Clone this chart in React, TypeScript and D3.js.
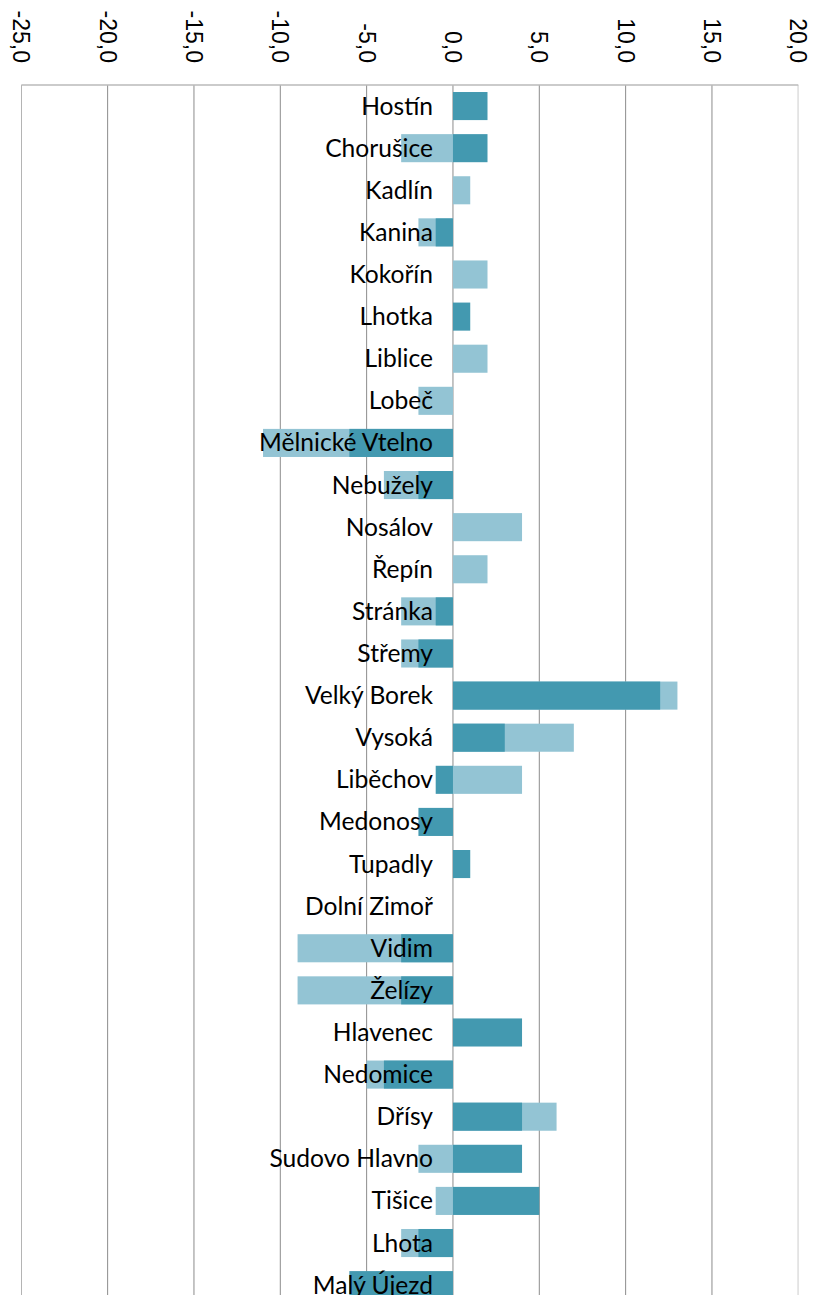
import React, { useEffect, useRef } from "react";
import * as d3 from "d3";

const categories = [
  "Hostín", "Chorušice", "Kadlín", "Kanina", "Kokořín", "Lhotka", "Liblice", "Lobeč",
  "Mělnické Vtelno", "Nebužely", "Nosálov", "Řepín", "Stránka", "Střemy", "Velký Borek",
  "Vysoká", "Liběchov", "Medonosy", "Tupadly", "Dolní Zimoř", "Vidim", "Želízy", "Hlavenec",
  "Nedomice", "Dřísy", "Sudovo Hlavno", "Tišice", "Lhota", "Malý Újezd"
];

// light series (drawn behind)
const seriesLight = [
  0, -3, 1, -2, 2, 0, 2, -2, -11, -4, 4, 2, -3, -3, 13,
  7, 4, 0, 0, 0, -9, -9, 0, -5, 6, -2, -1, -3, 0
];

// dark series (drawn in front)
const seriesDark = [
  2, 2, 0, -1, 0, 1, 0, 0, -6, -2, 0, 0, -1, -2, 12,
  3, -1, -2, 1, 0, -3, -3, 4, -4, 4, 4, 5, -2, -6
];

const xTicks = [-25, -20, -15, -10, -5, 0, 5, 10, 15, 20];

const App = () => {
  const ref = useRef<SVGSVGElement>(null);

  useEffect(() => {
    const W = 818, H = 1305;
    const left = 21.3, right = 798.3, top = 85, clipBottom = 1295;
    const step = 42.11;

    const svg = d3.select(ref.current);
    svg.selectAll("*").remove();
    svg.attr("width", W).attr("height", H);

    const x = d3.scaleLinear().domain([-25, 20]).range([left, right]);
    const y = d3.scaleBand<string>()
      .domain(categories)
      .range([top, top + step * categories.length])
      .paddingInner(1 / 3)
      .paddingOuter(1 / 6);

    const fmt = d3.formatLocale({
      decimal: ",", thousands: " ", grouping: [3], currency: ["", ""], minus: "-"
    }).format(".1f");

    svg.append("defs").append("clipPath").attr("id", "plotclip")
      .append("rect")
      .attr("x", left).attr("y", top)
      .attr("width", right - left).attr("height", clipBottom - top);

    const plot = svg.append("g").attr("clip-path", "url(#plotclip)");

    // gridlines
    plot.selectAll(".grid")
      .data(xTicks)
      .join("line")
      .attr("class", "grid")
      .attr("x1", d => x(d)).attr("x2", d => x(d))
      .attr("y1", top).attr("y2", clipBottom)
      .attr("stroke", d => (d === -25 ? "#7a7a7a" : "#8c8c8c"))
      .attr("stroke-width", 1);

    // top border
    svg.append("line")
      .attr("x1", left).attr("x2", right)
      .attr("y1", top).attr("y2", top)
      .attr("stroke", "#bababa").attr("stroke-width", 1.5);

    const bars = (vals: number[], color: string, cls: string) => {
      plot.selectAll("." + cls)
        .data(vals)
        .join("rect")
        .attr("class", cls)
        .attr("x", d => x(Math.min(0, d)))
        .attr("width", d => Math.abs(x(d) - x(0)))
        .attr("y", (d, i) => y(categories[i])!)
        .attr("height", y.bandwidth())
        .attr("fill", color);
    };
    bars(seriesLight, "#93c4d4", "light");
    bars(seriesDark, "#4399b0", "dark");

    // category labels on top of the bars
    plot.selectAll(".cat")
      .data(categories)
      .join("text")
      .attr("class", "cat")
      .attr("x", 433)
      .attr("y", d => y(d)! + y.bandwidth() / 2 + 8.5)
      .attr("text-anchor", "end")
      .attr("font-family", "Lato, sans-serif")
      .attr("font-size", 24.6)
      .attr("fill", "#000")
      .text(d => d);

    // rotated axis labels
    svg.selectAll(".tick-label")
      .data(xTicks)
      .join("text")
      .attr("class", "tick-label")
      .attr("transform", d => `translate(${x(d)}, 63) rotate(90)`)
      .attr("text-anchor", "end")
      .attr("dominant-baseline", "central")
      .attr("font-family", "'Liberation Sans', Arial, sans-serif")
      .attr("font-size", 23)
      .attr("fill", "#000")
      .text(d => fmt(d));
  }, []);

  return (
    <svg ref={ref} style={{ position: "absolute", left: 0, top: 0, background: "#fff" }} />
  );
};

export default App;
